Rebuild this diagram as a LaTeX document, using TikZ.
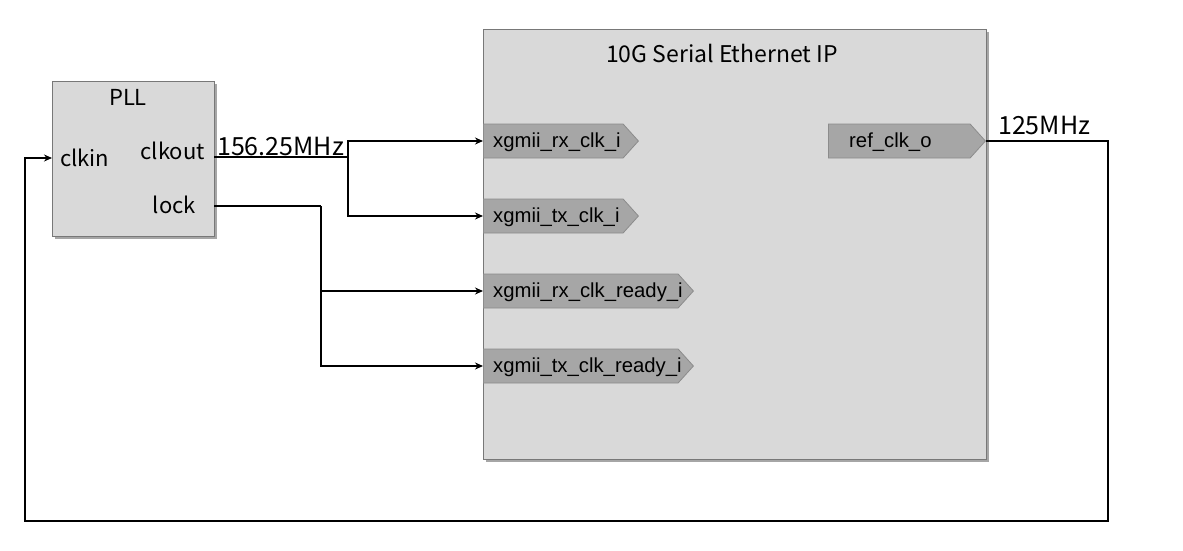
\documentclass[tikz,border=0pt]{standalone}
\usepackage{fontspec}
\setmainfont{Liberation Sans}
\newfontfamily\yh{Noto Sans CJK SC}
\usetikzlibrary{shapes.symbols,shadows,arrows.meta}
\definecolor{boxfill}{RGB}{217,217,217}
\definecolor{boxline}{RGB}{120,120,120}
\definecolor{portfill}{RGB}{166,166,166}
\definecolor{portline}{RGB}{140,140,140}
\tikzset{
  block/.style={draw=boxline, line width=1pt, fill=boxfill, inner sep=0pt,
    drop shadow={shadow xshift=2.5pt, shadow yshift=-2.5pt, fill=black, opacity=.35}},
  port/.style={shape=signal, signal to=east, signal pointer angle=96, draw=portline, line width=0.8pt,
    fill=portfill, minimum height=34pt, inner sep=0pt, anchor=west},
  ptxt/.style={font=\fontsize{20.3}{24}\selectfont, inner sep=0pt, anchor=west},
  lbl/.style={font=\yh\fontsize{22}{26}\selectfont, inner sep=0pt},
  freq/.style={font=\yh\fontsize{25}{29}\selectfont, inner sep=0pt},
  conn/.style={line width=2pt, black},
  arr/.style={conn, -{Stealth[length=8pt,width=7pt]}},
}
\begin{document}
\begin{tikzpicture}[x=1pt,y=-1pt]
\useasboundingbox[fill=white] (0,0) rectangle (1183,550);
% blocks
\node[block, minimum width=162pt, minimum height=155pt] (pll) at (133,158.5) {};
\node[block, minimum width=503pt, minimum height=430pt] (ip) at (734.5,244) {};
% block texts
\node[lbl] (tpll) at (128,97) {PLL};
\node[lbl, anchor=west] (tclkin) at (60,158) {clkin};
\node[lbl, anchor=east] (tclkout) at (205,151) {clkout};
\node[lbl, anchor=east] (tlock) at (196,205) {lock};
\node[lbl, font=\yh\fontsize{23}{27}\selectfont] (tip) at (722,53) {10G Serial Ethernet IP};
% ports
\node[port, minimum width=155pt] (rx) at (483,141) {};
\node[port, minimum width=155pt] (tx) at (483,216) {};
\node[port, minimum width=210pt] (rxr) at (483,291) {};
\node[port, minimum width=210pt] (txr) at (483,366) {};
\node[port, minimum width=157pt] (ref) at (828,141) {};
\node[ptxt] (trx) at (493,142) {xgmii\_rx\_clk\_i};
\node[ptxt] (ttx) at (493,217) {xgmii\_tx\_clk\_i};
\node[ptxt] (trxr) at (493,292) {xgmii\_rx\_clk\_ready\_i};
\node[ptxt] (ttxr) at (493,367) {xgmii\_tx\_clk\_ready\_i};
\node[ptxt] (tref) at (849,142) {ref\_clk\_o};
% frequency labels
\node[freq, anchor=base west] (f1) at (217,155) {156.25MHz};
\node[freq, anchor=base west] (f2) at (998,134) {125MHz};
% coordinates
\coordinate (co) at (214,157);
\coordinate (j1) at (348,157);
\coordinate (lo) at (214,206);
\coordinate (j2) at (321,206);
\coordinate (c1) at (1108,141);
\coordinate (c2) at (1108,521);
\coordinate (c3) at (25,521);
\coordinate (c4) at (25,158);
\coordinate (ci) at (52,158);
% connectors
\draw[conn] (co) -- (j1);
\draw[arr] (j1) |- (rx.west);
\draw[arr] (j1) |- (tx.west);
\draw[conn] (lo) -- (j2);
\draw[arr] (j2) |- (rxr.west);
\draw[arr] (j2) |- (txr.west);
\draw[arr] (ref.east) -- (c1) -- (c2) -- (c3) -- (c4) -- (ci);
\end{tikzpicture}
\end{document}
